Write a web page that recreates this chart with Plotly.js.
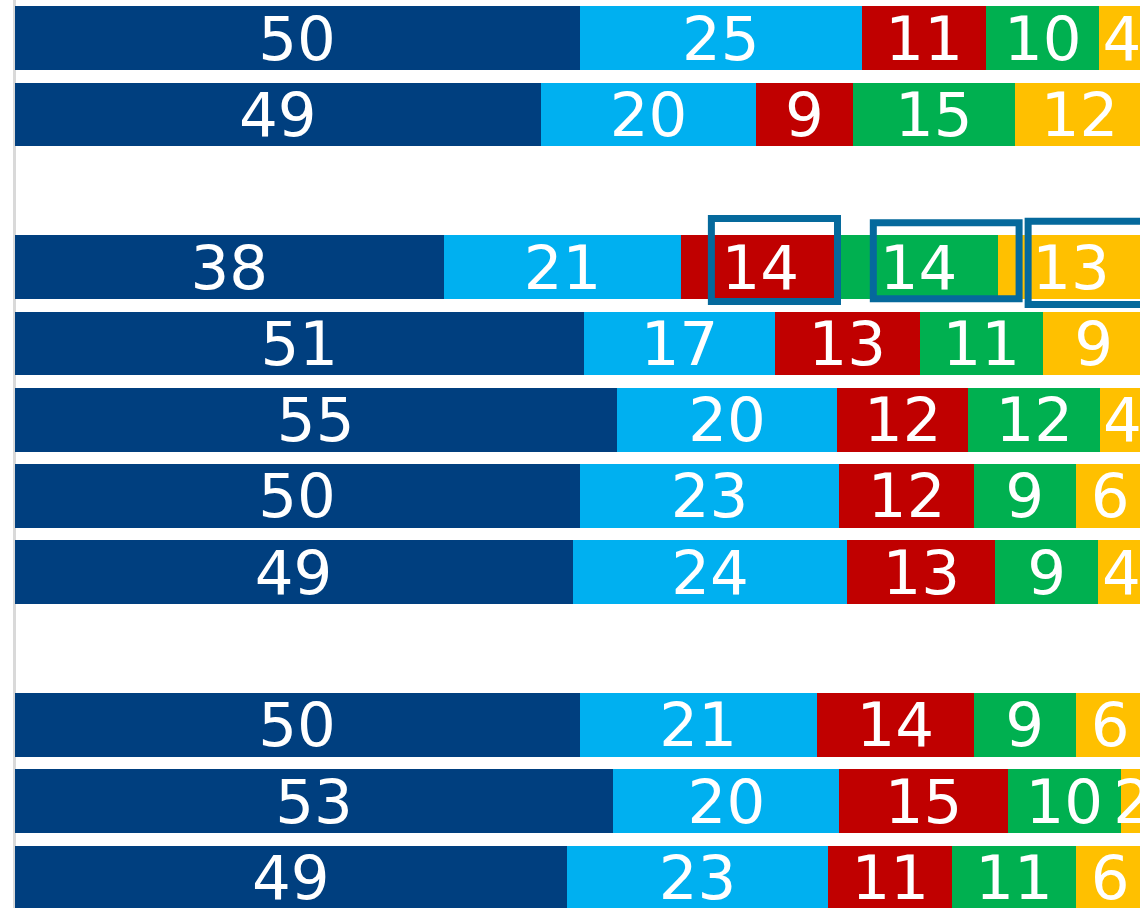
<!DOCTYPE html>
<html>
<head>
<meta charset="utf-8">
<script src="https://cdn.plot.ly/plotly-3.0.1.min.js"></script>
<style>
  html, body { margin: 0; padding: 0; background: #ffffff; }
  #chart { width: 1140px; height: 908px; }
</style>
</head>
<body>
<div id="chart"></div>
<script>
// Row categories (top to bottom); empty group-header rows carry no data
const categories = ['Row 1', 'Row 2', 'Group 2', 'Row 3', 'Row 4', 'Row 5', 'Row 6', 'Row 7', 'Group 3', 'Row 8', 'Row 9', 'Row 10'];

// Segment widths
const navyValues   = [50,   46.6, null, 38, 50.4, 53.3, 50,   49.4, null, 50,   53,   48.9];
const blueValues   = [25,   19,   null, 21, 16.9, 19.5, 23,   24.3, null, 21,   20,   23.1];
const redValues    = [11,   8.6,  null, 14, 12.8, 11.6, 11.9, 13.1, null, 13.9, 14.9, 11];
const greenValues  = [10,   14.3, null, 14, 10.9, 11.7, 9,    9.1,  null, 9,    10,   10.9];
const yellowValues = [4,    11.5, null, 13, 9,    3.9,  6.1,  4.1,  null, 6.1,  2.1,  6.1];

// Labels printed on the segments
const navyLabels   = ['50', '49', '', '38', '51', '55', '50', '49', '', '50', '53', '49'];
const blueLabels   = ['25', '20', '', '21', '17', '20', '23', '24', '', '21', '20', '23'];
const redLabels    = ['11', '9',  '', '14', '13', '12', '12', '13', '', '14', '15', '11'];
const greenLabels  = ['10', '15', '', '14', '11', '12', '9',  '9',  '', '9',  '10', '11'];
const yellowLabels = ['4',  '12', '', '13', '9',  '4',  '6',  '4',  '', '6',  '2',  '6'];

// Highlighted segments (row, series index)
const highlightRow = 'Row 3';
const highlightSeries = [2, 3, 4];

const series = [
  { v: navyValues,   t: navyLabels,   c: '#003f7f' },
  { v: blueValues,   t: blueLabels,   c: '#00b0f0' },
  { v: redValues,    t: redLabels,    c: '#c00000' },
  { v: greenValues,  t: greenLabels,  c: '#00b050' },
  { v: yellowValues, t: yellowLabels, c: '#ffc000' }
];

const traces = series.map(s => ({
  type: 'bar',
  orientation: 'h',
  y: categories,
  x: s.v,
  text: s.t,
  textposition: 'inside',
  insidetextanchor: 'middle',
  textangle: 0,
  constraintext: 'none',
  textfont: { family: 'DejaVu Sans, sans-serif', size: 61, color: '#ffffff' },
  marker: { color: s.c, line: { width: 0 } },
  hoverinfo: 'none',
  cliponaxis: true
}));

// Highlight boxes around the labels of the chosen row
const rowIdx = categories.indexOf(highlightRow);
const cum = [0];
series.forEach((s, i) => cum.push(cum[i] + (s.v[rowIdx] || 0)));
const boxSpecs = [
  { dx: 1.25, hw: 5.58, y0: -0.637, y1: 0.451 },
  { dx: 2.45, hw: 6.45, y0: -0.582, y1: 0.414 },
  { dx: 3.2,  hw: 7.0,  y0: -0.600, y1: 0.490 }
];
const shapes = highlightSeries.map((si, k) => {
  const mid = (cum[si] + cum[si + 1]) / 2 + boxSpecs[k].dx;
  return {
    type: 'rect', xref: 'x', yref: 'y',
    x0: mid - boxSpecs[k].hw, x1: mid + boxSpecs[k].hw,
    y0: rowIdx + boxSpecs[k].y0, y1: rowIdx + boxSpecs[k].y1,
    line: { color: '#05699c', width: 7 },
    fillcolor: 'rgba(0,0,0,0)',
    layer: 'above'
  };
});

const layout = {
  width: 1140,
  height: 908,
  margin: { l: 0, r: 0, t: 0, b: 0, pad: 0 },
  barmode: 'stack',
  bargap: 0.165,
  showlegend: false,
  paper_bgcolor: '#ffffff',
  plot_bgcolor: '#ffffff',
  xaxis: {
    range: [-1.283, 99.6],
    showgrid: false,
    showticklabels: false,
    ticks: '',
    zeroline: true,
    zerolinecolor: '#d9d9d9',
    zerolinewidth: 2.4,
    fixedrange: true
  },
  yaxis: {
    type: 'category',
    categoryarray: categories,
    categoryorder: 'array',
    range: [11.40, -0.5007],
    showgrid: false,
    showticklabels: false,
    ticks: '',
    zeroline: false,
    fixedrange: true
  },
  shapes: shapes
};

Plotly.newPlot('chart', traces, layout, { displayModeBar: false, staticPlot: true });
</script>
</body>
</html>
